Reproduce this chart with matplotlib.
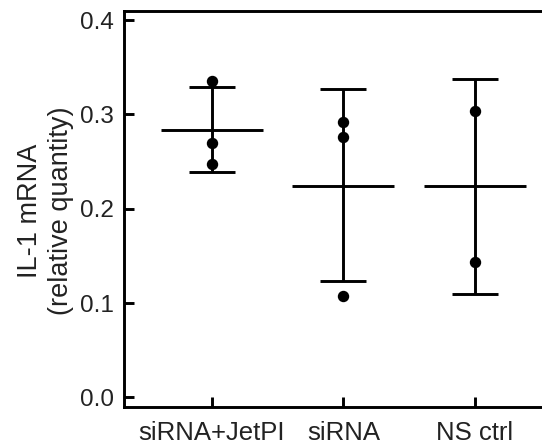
import matplotlib
matplotlib.use("Agg")
import matplotlib.pyplot as plt
import numpy as np

plt.rcParams['font.family'] = ['Liberation Sans', 'DejaVu Sans']

categories = ["siRNA+JetPI", "siRNA", "NS ctrl"]
means = [0.284, 0.224, 0.224]
upper = [0.329, 0.327, 0.338]
lower = [0.239, 0.123, 0.110]
points = [
    [0.335, 0.270, 0.248],
    [0.292, 0.276, 0.108],
    [0.304, 0.144],
]
yticks = [0.0, 0.1, 0.2, 0.3, 0.4]
ytick_labels = ["0.0", "0.1", "0.2", "0.3", "0.4"]

fig = plt.figure(figsize=(5.42, 4.48), dpi=100)
ax = fig.add_axes([0.228, 0.092, 0.772, 0.884])

x = np.arange(len(categories))
means_a = np.array(means)
yerr = np.vstack([means_a - np.array(lower), np.array(upper) - means_a])

ax.errorbar(x, means_a, yerr=yerr, fmt='none', ecolor='black', elinewidth=2.1,
            capsize=16.5, capthick=2.1, zorder=2)
ax.plot(x, means_a, linestyle='none', marker='_', markersize=73,
        markeredgewidth=2.1, color='black', zorder=2)
for xi, pts in zip(x, points):
    ax.plot([xi] * len(pts), pts, linestyle='none', marker='o', markersize=7.2,
            color='black', zorder=3)

ax.set_xlim(-0.67, 2.51)
ax.set_ylim(-0.01, 0.41)
ax.set_xticks(x)
ax.set_xticklabels(categories, fontsize=18.5)
ax.set_yticks(yticks)
ax.set_yticklabels(ytick_labels, fontsize=17.5)
ax.tick_params(axis='both', direction='in', length=7, width=2.1, colors='black',
               labelcolor='#222222')
ax.tick_params(axis='y', pad=7)
ax.tick_params(axis='x', pad=10)
for s in ['left', 'bottom', 'top']:
    ax.spines[s].set_linewidth(2.1)
ax.spines['right'].set_visible(False)

ax.set_ylabel("IL-1 mRNA\n(relative quantity)", fontsize=19.5, color='#222222',
              linespacing=1.25, va='center')
ax.yaxis.set_label_coords(-0.187, 0.495)

fig.savefig("out.png", dpi=100)
